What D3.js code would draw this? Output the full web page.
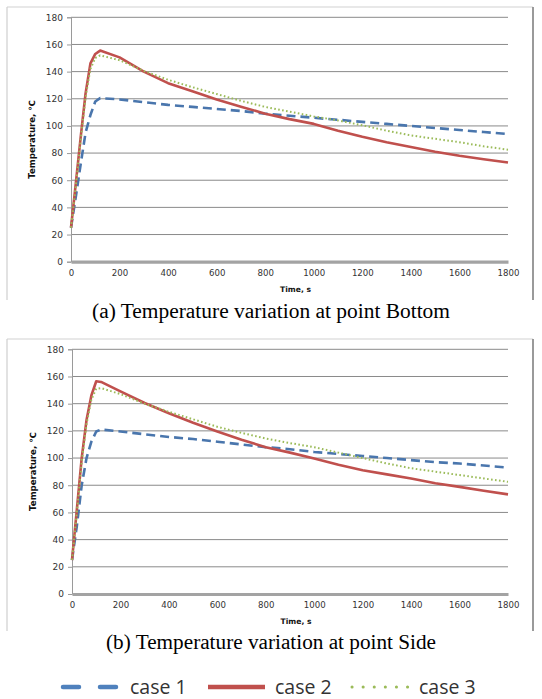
<!DOCTYPE html>
<html>
<head>
<meta charset="utf-8">
<script src="https://cdn.jsdelivr.net/npm/d3@7/dist/d3.min.js"></script>
<style>
  html, body { margin: 0; padding: 0; background: #fff; }
  svg { display: block; }
</style>
</head>
<body>
<svg id="chart" width="542" height="699"></svg>
<script>
// ---- data ----
const time = [0, 20, 40, 60, 80, 100, 120, 200, 300, 400, 500, 600, 700, 800, 900, 1000, 1100, 1200, 1300, 1400, 1500, 1600, 1700, 1800];

// (a) point Bottom
const bottomCase1 = [25, 48, 72, 95, 108, 118, 120.5, 119.5, 117.5, 115.5, 114, 112.5, 111, 109, 107.5, 106, 104.5, 103, 101.5, 100, 98.5, 97, 95.5, 94];
const bottomCase2 = [25, 58, 92, 124, 146, 153, 155.5, 150.5, 140, 131.5, 125.5, 119.5, 114.2, 109, 105, 101.5, 96.5, 92, 88, 84.5, 81, 78, 75.5, 73];
const bottomCase3 = [25, 56, 90, 121, 142, 150, 152, 148.4, 140.5, 134, 128.5, 123.5, 118.5, 114, 110.5, 107, 104, 100.5, 96.5, 93, 90.5, 88, 85, 82.5];

// (b) point Side
const sideCase1 = [25, 50, 80, 100, 112, 119.5, 121, 119.5, 117.5, 115.5, 114, 112, 110, 108, 106.5, 104.5, 103, 101.5, 100, 98.5, 97, 96, 94.5, 93];
const sideCase2 = [25, 62, 100, 128, 146, 156.5, 156, 149, 140.5, 133, 126, 119.5, 113.5, 108, 104, 99.7, 95, 91, 88, 85, 81.5, 78.8, 76, 73.3];
const sideCase3 = [25, 60, 97, 125, 143, 151, 151.5, 147, 140, 134, 128.5, 123, 118.5, 114.4, 111, 108, 104, 100, 96, 92.5, 90, 87.5, 85, 82.5];

const xTicks = [0, 200, 400, 600, 800, 1000, 1200, 1400, 1600, 1800];
const yTicks = [0, 20, 40, 60, 80, 100, 120, 140, 160, 180];
const seriesNames = ["case1", "case2", "case3"];
const legendLabels = ["case 1", "case 2", "case 3"];
const captions = ["(a)  Temperature variation at point Bottom", "(b)  Temperature variation at point Side"];

// ---- styles ----
const colors = ["#4a76ad", "#c0504d", "#9bbb59"];
const legendColors = ["#4f81bd", "#c0504d", "#9bbb59"];
const widths = [2.6, 2.6, 2];
const dashes = ["9,5", null, "1.6,2.4"];

const svg = d3.select("#chart");

function drawPanel(cfg) {
  const g = svg.append("g");
  // outer chart box
  g.append("line").attr("x1", cfg.box[0]).attr("x2", cfg.box[2]).attr("y1", cfg.box[1]).attr("y2", cfg.box[1])
    .attr("stroke", "#d2d2d2").attr("stroke-width", 1.2);
  g.append("line").attr("x1", cfg.box[0]).attr("x2", cfg.box[0]).attr("y1", cfg.box[1]).attr("y2", cfg.box[3])
    .attr("stroke", "#cfcfcf").attr("stroke-width", 1.2);
  g.append("line").attr("x1", cfg.box[2]).attr("x2", cfg.box[2]).attr("y1", cfg.box[1]).attr("y2", cfg.box[3])
    .attr("stroke", "#8f8f8f").attr("stroke-width", 1.8);

  const x = d3.scaleLinear().domain([0, 1800]).range([cfg.x0, cfg.x1]);
  const y = d3.scaleLinear().domain([0, 180]).range([cfg.yb, cfg.yt]);

  // gridlines
  g.append("g").selectAll("line").data(yTicks.filter(d => d > 0)).join("line")
    .attr("x1", cfg.x0).attr("x2", cfg.x1)
    .attr("y1", d => y(d)).attr("y2", d => y(d))
    .attr("stroke", "#8a8a8a").attr("stroke-width", 1);

  // y axis
  const yAxis = d3.axisLeft(y).tickValues(yTicks).tickFormat(d3.format("d")).tickSize(4).tickPadding(4);
  const ya = g.append("g").attr("transform", `translate(${cfg.x0},0)`).call(yAxis);
  ya.select(".domain").attr("stroke", "#9a9a9a");
  ya.selectAll(".tick line").attr("stroke", "#9a9a9a");
  ya.selectAll("text").attr("font-family", "DejaVu Sans, Verdana, sans-serif").attr("font-size", 9).attr("fill", "#333");

  // x axis
  const xAxis = d3.axisBottom(x).tickValues(xTicks).tickFormat(d3.format("d")).tickSize(0).tickPadding(8);
  const xa = g.append("g").attr("transform", `translate(0,${cfg.yb})`).call(xAxis);
  xa.select(".domain").attr("stroke", "#a3a3a3").attr("stroke-width", 3.2);
  xa.selectAll("text").attr("font-family", "DejaVu Sans, Verdana, sans-serif").attr("font-size", 8.6).attr("fill", "#333");

  // lines
  const line = d3.line().x((d, i) => x(time[i])).y(d => y(d));
  cfg.series.forEach((vals, k) => {
    g.append("path").datum(vals)
      .attr("d", line)
      .attr("fill", "none")
      .attr("stroke", colors[k])
      .attr("stroke-width", widths[k])
      .attr("stroke-dasharray", dashes[k])
      .attr("stroke-linejoin", "round");
  });

  // axis titles
  g.append("text")
    .attr("transform", `translate(${cfg.ylabX},${(cfg.yt + cfg.yb) / 2}) rotate(-90)`)
    .attr("text-anchor", "middle")
    .attr("font-family", "DejaVu Sans, Verdana, sans-serif")
    .attr("font-weight", "bold").attr("font-size", 8.6).attr("fill", "#111")
    .text("Temperature, ℃");
  g.append("text")
    .attr("x", (cfg.x0 + cfg.x1) / 2 + 6).attr("y", cfg.xlabY)
    .attr("text-anchor", "middle")
    .attr("font-family", "DejaVu Sans, Verdana, sans-serif")
    .attr("font-weight", "bold").attr("font-size", 7.6).attr("fill", "#111")
    .text("Time, s");

  // caption
  g.append("text")
    .attr("x", 271).attr("y", cfg.capY)
    .attr("text-anchor", "middle")
    .attr("font-family", "Liberation Serif, Times New Roman, serif")
    .attr("font-size", 20).attr("fill", "#000")
    .attr("textLength", cfg.capLen).attr("lengthAdjust", "spacingAndGlyphs")
    .text(cfg.caption);
}

drawPanel({
  box: [7, 7, 533, 300], x0: 71, x1: 508, yt: 17.3, yb: 261.7,
  series: [bottomCase1, bottomCase2, bottomCase3],
  ylabX: 35, xlabY: 292, capY: 318, capLen: 358, caption: captions[0]
});
drawPanel({
  box: [7, 339, 533, 631], x0: 72, x1: 508, yt: 349.3, yb: 594,
  series: [sideCase1, sideCase2, sideCase3],
  ylabX: 36, xlabY: 624, capY: 649, capLen: 330, caption: captions[1]
});

// legend
const legendX = [63, 208, 352];
const legend = svg.append("g");
seriesNames.forEach((s, k) => {
  legend.append("line")
    .attr("x1", legendX[k]).attr("x2", legendX[k] + 57)
    .attr("y1", 687).attr("y2", 687)
    .attr("stroke", legendColors[k])
    .attr("stroke-width", k === 2 ? 3 : 4.5)
    .attr("stroke-linecap", k === 1 ? "butt" : "round")
    .attr("stroke-dasharray", k === 0 ? "16,21" : (k === 2 ? "0.1,11" : null));
  legend.append("text")
    .attr("x", legendX[k] + 67).attr("y", 694)
    .attr("font-family", "Open Sans, sans-serif").attr("font-size", 19.5).attr("fill", "#333")
    .text(legendLabels[k]);
});
</script>
</body>
</html>
